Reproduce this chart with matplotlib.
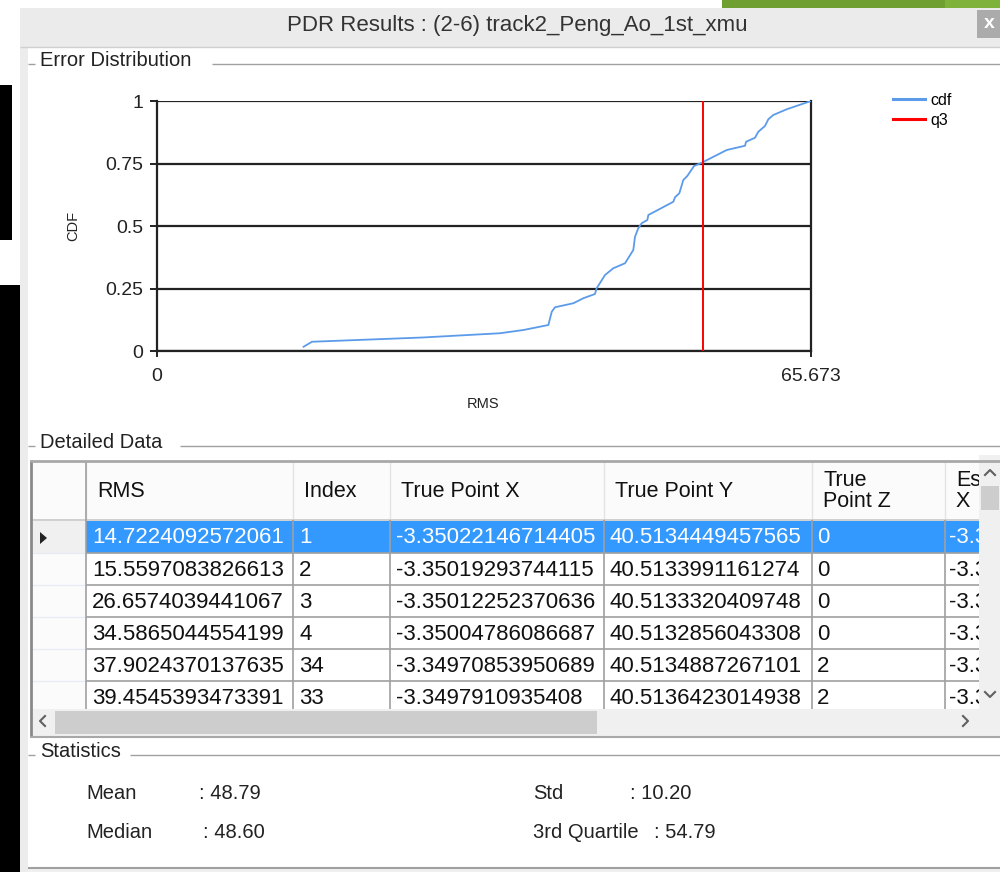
import matplotlib
matplotlib.use('Agg')
import matplotlib.pyplot as plt
from matplotlib.patches import Rectangle, Polygon
from matplotlib.lines import Line2D

plt.rcParams['font.family'] = ['Liberation Sans', 'DejaVu Sans']

# ---------------- data ----------------
window_title = "PDR Results : (2-6) track2_Peng_Ao_1st_xmu"

cdf_rms = [14.72, 15.56, 26.66, 34.44, 36.80, 39.30, 39.64, 39.97, 41.81, 42.81,
           43.98, 44.15, 44.99, 45.82, 47.00, 47.83, 48.00, 48.33, 48.67, 49.24,
           49.34, 51.85, 52.02, 52.45, 52.85, 53.25, 53.93, 54.70, 57.21, 59.05,
           59.15, 60.05, 60.38, 61.05, 61.39, 61.89, 63.24, 65.673]
cdf_val = [0.017, 0.037, 0.054, 0.071, 0.084, 0.104, 0.157, 0.175, 0.191, 0.211,
           0.228, 0.251, 0.304, 0.331, 0.351, 0.404, 0.457, 0.491, 0.511, 0.524,
           0.544, 0.597, 0.615, 0.631, 0.684, 0.700, 0.740, 0.753, 0.804, 0.821,
           0.837, 0.853, 0.877, 0.900, 0.927, 0.944, 0.967, 1.0]
q3_value = 54.79
rms_max = 65.673
y_ticks = [0, 0.25, 0.5, 0.75, 1]
y_tick_labels = ['0', '0.25', '0.5', '0.75', '1']
x_ticks = [0, rms_max]
x_tick_labels = ['0', '65.673']

col_names = ["RMS", "Index", "True Point X", "True Point Y", "True\nPoint Z", "Es\nX"]
rms_col = ["14.7224092572061", "15.5597083826613", "26.6574039441067",
           "34.5865044554199", "37.9024370137635", "39.4545393473391"]
index_col = ["1", "2", "3", "4", "34", "33"]
tpx_col = ["-3.35022146714405", "-3.35019293744115", "-3.35012252370636",
           "-3.35004786086687", "-3.34970853950689", "-3.3497910935408"]
tpy_col = ["40.5134449457565", "40.5133991161274", "40.5133320409748",
           "40.5132856043308", "40.5134887267101", "40.5136423014938"]
tpz_col = ["0", "0", "0", "0", "2", "2"]
esx_col = ["-3.35", "-3.35", "-3.35", "-3.35", "-3.35", "-3.35"]

stat_names = ["Mean", "Median", "Std", "3rd Quartile"]
stat_values = [48.79, 48.60, 10.20, 54.79]

# ---------------- figure ----------------
W, H = 1000, 872
fig = plt.figure(figsize=(W / 100, H / 100), dpi=100)
fig.patch.set_facecolor('white')

bg = fig.add_axes([0, 0, 1, 1])
bg.set_xlim(0, W)
bg.set_ylim(H, 0)
bg.axis('off')


def rect(x0, y0, x1, y1, color, z=1, **kw):
    r = Rectangle((x0, y0), x1 - x0, y1 - y0, facecolor=color, edgecolor='none', zorder=z, **kw)
    bg.add_patch(r)
    return r


def hline(y, x0, x1, color, lw=1.0, z=2):
    bg.plot([x0, x1], [y, y], color=color, lw=lw, zorder=z, solid_capstyle='butt')


def vline(x, y0, y1, color, lw=1.0, z=2):
    bg.plot([x, x], [y0, y1], color=color, lw=lw, zorder=z, solid_capstyle='butt')


# desktop behind the dialog
rect(0, 85, 12, 240, 'black')
rect(0, 285, 20, 872, 'black')
rect(722, 0, 1000, 8, '#7fb23a')
rect(722, 0, 945, 8, '#6f9f30')

# window frame
rect(20, 8, 1000, 48, '#ebebeb')
rect(20, 48, 28, 872, '#ececec')
hline(47, 20, 1000, '#d0d0d0', 1)
bg.text(517, 26, window_title, ha='center', va='center', fontsize=16, color='#333333')
rect(977, 10, 1000, 38, '#ababab')
bg.text(989, 24, 'x', ha='center', va='center', fontsize=14, color='white', fontweight='bold')


# group boxes
def group(label, y, x_line_start):
    hline(y + 4, 28, 35, '#a0a0a0', 1)
    bg.text(40, y, label, ha='left', va='center', fontsize=14.5, color='#222222')
    hline(y + 4, x_line_start, 1000, '#a0a0a0', 1)


group("Error Distribution", 60, 212)
group("Detailed Data", 442, 180)
group("Statistics", 751, 130)

# ---------------- table ----------------
col_edges = [30, 86, 293, 390, 604, 812, 945, 979]
hdr_top, hdr_bot = 462, 520
row_edges = [520, 553, 585, 617, 649, 681, 713]
tbl_bottom = 709

rect(30, 460, 1000, 737, '#ffffff', z=1)
# header
rect(30, hdr_top, 979, hdr_bot, '#fbfbfb', z=1.5)
for x in col_edges[1:-1]:
    vline(x, hdr_top, hdr_bot, '#e3e3e3', 1)
hline(hdr_bot, 30, 979, '#c8c8c8', 1.2)
# row header column
rect(30, hdr_bot, 86, tbl_bottom, '#fbfbfb', z=1.5)
for y in row_edges[1:-1]:
    hline(y, 30, 86, '#e6ecf3', 1)
rect(32, 521, 86, 553, '#f0f0f0', z=1.6)
bg.add_patch(Polygon([[40, 532], [40, 544], [47, 538]], closed=True, facecolor='#222222',
                     edgecolor='none', zorder=3))
# selected row
rect(86, 521, 979, 553, '#3399ff', z=1.7)

# grid lines
for y in row_edges[1:-1]:
    hline(y, 86, 979, '#a0a0a0', 1.2)
for x in col_edges[2:-1]:
    vline(x, hdr_bot, tbl_bottom, '#a0a0a0', 1.2)
vline(86, hdr_top, tbl_bottom, '#a0a0a0', 1.2)

# header texts (each clipped to its own column)
for i, name in enumerate(col_names):
    cell = Rectangle((col_edges[i + 1], hdr_top), col_edges[i + 2] - col_edges[i + 1],
                     hdr_bot - hdr_top, transform=bg.transData)
    t = bg.text(col_edges[i + 1] + 11, 491, name, ha='left', va='center', fontsize=15.5,
                color='#111111', linespacing=1.05, zorder=3)
    t.set_clip_path(cell)

columns = [rms_col, index_col, tpx_col, tpy_col, tpz_col, esx_col]
offsets = [6, 6, 6, 6, 5, 4]
for r in range(len(rms_col)):
    yc = (row_edges[r] + row_edges[r + 1]) / 2 + 1
    color = 'white' if r == 0 else '#111111'
    for c, col in enumerate(columns):
        bg.text(col_edges[c + 1] + offsets[c], yc, col[r], ha='left', va='center',
                fontsize=16, color=color, zorder=3)

# scrollbars drawn above the cells (they hide the overflowing text)
rect(979, 455, 1000, 736, '#f0f0f0', z=5)
rect(981, 486, 999, 510, '#cdcdcd', z=5.1)
bg.plot([985, 990, 995], [475, 470, 475], color='#606060', lw=1.5, zorder=6)
bg.plot([985, 990, 995], [692, 697, 692], color='#606060', lw=1.5, zorder=6)

rect(30, tbl_bottom, 1000, 736, '#f0f0f0', z=5)
rect(55, 711, 597, 734, '#cdcdcd', z=5.1)
bg.plot([45, 40, 45], [716, 721, 726], color='#606060', lw=1.5, zorder=6)
bg.plot([963, 968, 963], [716, 721, 726], color='#606060', lw=1.5, zorder=6)

# table border
vline(31, 460, 737, '#8a8a8a', 2, z=7)
hline(461, 30, 1000, '#a8a8a8', 2, z=7)
hline(737, 30, 1000, '#a8a8a8', 1.5, z=7)
rect(0, 285, 20, 872, 'black', z=8)

# ---------------- statistics ----------------
stat_pos = [(86, 199, 793), (86, 203, 832), (533, 630, 793), (533, 654, 832)]
for name, val, (xn, xv, yv) in zip(stat_names, stat_values, stat_pos):
    bg.text(xn, yv, name, ha='left', va='center', fontsize=14.5, color='#222222')
    bg.text(xv, yv, ': %.2f' % val, ha='left', va='center', fontsize=14.5, color='#222222')

hline(868, 28, 1000, '#a0a0a0', 1.5)
rect(28, 869, 1000, 872, '#f0f0f0')

# ---------------- chart ----------------
x0p, x1p, y0p, y1p = 157, 811, 351, 101
ax = fig.add_axes([x0p / W, 1 - y0p / H, (x1p - x0p) / W, (y0p - y1p) / H])
ax.set_facecolor('white')
ax.set_xlim(0, rms_max)
ax.set_ylim(0, 1)
ax.set_yticks(y_ticks)
ax.set_yticklabels(y_tick_labels)
ax.set_xticks(x_ticks)
ax.set_xticklabels(x_tick_labels)
ax.yaxis.grid(True, color='#222222', lw=1.6)
ax.set_axisbelow(True)
for s in ['left', 'bottom', 'right']:
    ax.spines[s].set_color('#222222')
    ax.spines[s].set_linewidth(1.6)
ax.spines['top'].set_visible(False)
ax.tick_params(axis='y', length=5, width=1.4, pad=5, labelsize=14, colors='#222222')
ax.tick_params(axis='x', length=4, width=1.4, pad=8, labelsize=14, colors='#222222')

ax.plot(cdf_rms, cdf_val, color='#5b9bea', lw=1.3, zorder=3)
ax.axvline(q3_value, color='#ff0000', lw=1.4, zorder=4)

ax.set_xlabel('RMS', fontsize=10.5, va='center', color='#222222')
ax.xaxis.set_label_coords((483 - x0p) / (x1p - x0p), (y0p - 404) / (y0p - y1p))
ax.set_ylabel('CDF', fontsize=10.5, va='center', color='#222222')
ax.yaxis.set_label_coords((73 - x0p) / (x1p - x0p), 0.5)

handles = [Line2D([], [], color='#5b9bea', lw=2.2), Line2D([], [], color='#ff0000', lw=2.2)]
fig.legend(handles, ['cdf', 'q3'], loc='upper left', bbox_to_anchor=(893 / W, 1 - 93 / H),
           bbox_transform=fig.transFigure, frameon=False, fontsize=11.5, handlelength=2.0,
           handletextpad=0.35, labelspacing=0.3, borderpad=0, borderaxespad=0)

fig.savefig('out.png', dpi=100, facecolor='white')
